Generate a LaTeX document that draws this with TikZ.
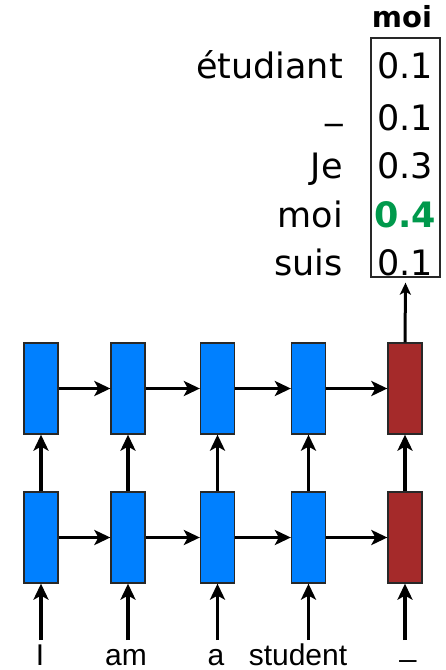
\documentclass[tikz,border=0pt]{standalone}
\usepackage{fontspec}
\setmainfont{DejaVu Sans}
\newfontfamily\arialf{Liberation Sans}
\usetikzlibrary{arrows.meta}
\definecolor{cellblue}{RGB}{0,128,255}
\definecolor{cellred}{RGB}{165,42,42}
\definecolor{probgreen}{RGB}{0,153,76}
\definecolor{edgegray}{RGB}{40,40,40}
\tikzset{
  enc/.style={draw=edgegray, line width=1.3pt, fill=cellblue, minimum width=34pt, minimum height=91pt, inner sep=0pt},
  dec/.style={enc, fill=cellred},
  conn/.style={line width=3.3pt, -{Stealth[length=16pt,width=15pt,inset=4pt]}},
  word/.style={font=\arialf\fontsize{30}{30}\selectfont, anchor=base, inner sep=0pt},
  lab/.style={font=\fontsize{35}{35}\selectfont, anchor=base east, inner sep=0pt},
  val/.style={font=\fontsize{35}{35}\selectfont, anchor=base, inner sep=0pt},
}
\begin{document}
\begin{tikzpicture}[x=1pt,y=-1pt]
\useasboundingbox (0,0) rectangle (446,670);
% top row
\node[enc] (t1) at (41,388.5) {};
\node[enc] (t2) at (128,388.5) {};
\node[enc] (t3) at (217.5,388.5) {};
\node[enc] (t4) at (308.5,388.5) {};
\node[dec] (t5) at (405,388.5) {};
% bottom row
\node[enc] (b1) at (41,537.5) {};
\node[enc] (b2) at (128,537.5) {};
\node[enc] (b3) at (217.5,537.5) {};
\node[enc] (b4) at (308.5,537.5) {};
\node[dec] (b5) at (405,537.5) {};
% input coordinates
\coordinate (i1) at (41,640);
\coordinate (i2) at (128,640);
\coordinate (i3) at (217.5,640);
\coordinate (i4) at (308.5,640);
\coordinate (i5) at (405,640);
% words
\node[word] (w1) at (40,665) {I};
\node[word] (w2) at (126,665) {am};
\node[word] (w3) at (216,665) {a};
\node[word] (w4) at (298,665) {student};
\node[word] (w5) at (408,656) {\_};
% arrows
\foreach \i in {1,...,5} {
  \draw[conn] (i\i) -- (b\i.south);
  \draw[conn] (b\i.north) -- (t\i.south);
}
\foreach \i/\j in {1/2,2/3,3/4,4/5} {
  \draw[conn] (b\i.east) -- (b\j.west);
  \draw[conn] (t\i.east) -- (t\j.west);
}
% probability box
\node[draw=edgegray, line width=1.3pt, minimum width=69pt, minimum height=239pt, inner sep=0pt] (pbox) at (405.5,157.5) {};
\draw[line width=3pt, -{Stealth[length=12pt,width=11pt,inset=3pt]}] (t5.north) -- ([yshift=-5pt]pbox.south);
\node[font=\bfseries\fontsize{29}{29}\selectfont, anchor=base, inner sep=0pt] (hdr) at (402,27) {moi};
\node[lab] (l1) at (343,78) {étudiant};
\node[lab] (l2) at (343,118) {\_};
\node[lab] (l3) at (343,178) {Je};
\node[lab] (l4) at (343,227) {moi};
\node[lab] (l5) at (343,275) {suis};
\node[val] (v1) at (405,78) {0.1};
\node[val] (v2) at (405,130) {0.1};
\node[val] (v3) at (405,178) {0.3};
\node[val, text=probgreen, font=\bfseries\fontsize{35}{35}\selectfont] (v4) at (405,227) {0.4};
\node[val] (v5) at (405,275) {0.1};
\end{tikzpicture}
\end{document}
